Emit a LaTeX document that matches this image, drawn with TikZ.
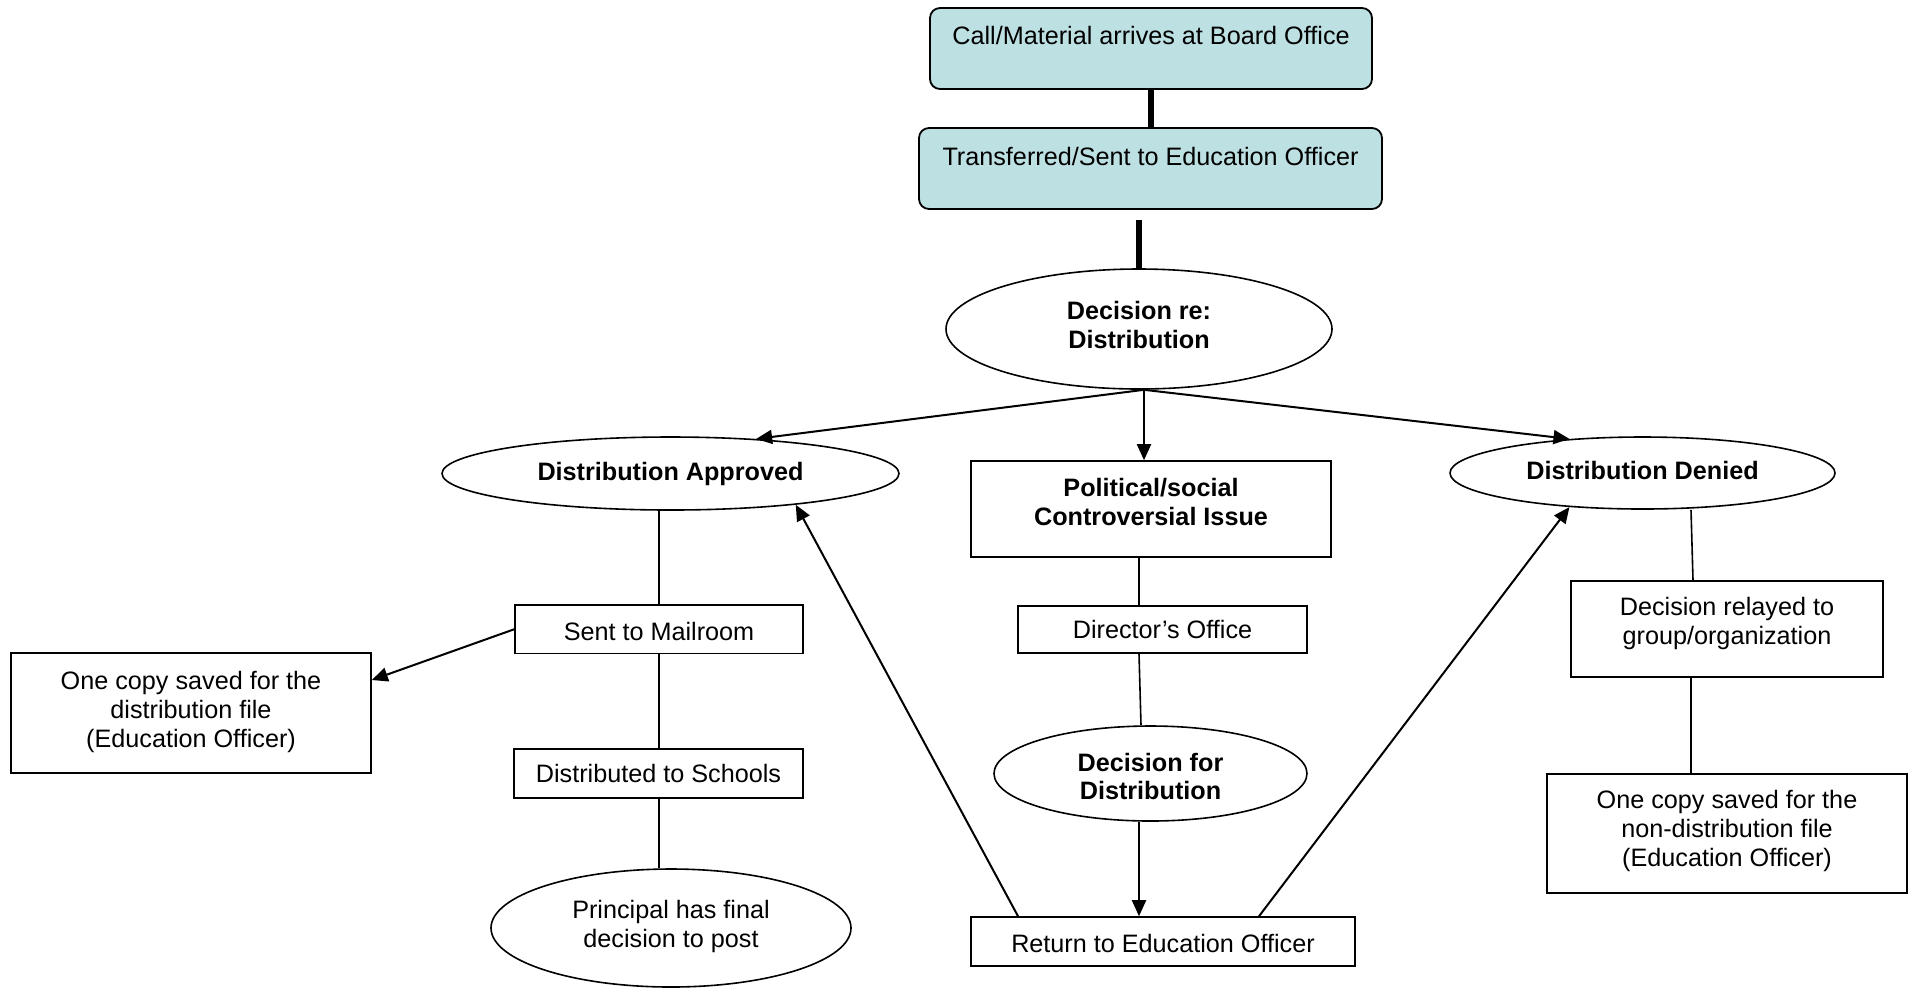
\documentclass[tikz,border=0pt]{standalone}
\usepackage{fontspec}
\setmainfont{Liberation Sans}
\usetikzlibrary{shapes.geometric,arrows.meta}
\definecolor{boxblue}{RGB}{189,224,227}
\newcommand\liftby[2]{\raisebox{#1}[\height][\depth]{#2}}
\begin{document}
\begin{tikzpicture}[x=0.5pt,y=-0.5pt,
  every node/.style={font=\fontsize{12.6}{14.4}\selectfont, align=center},
  bf/.style={font=\fontsize{12.6}{14.4}\selectfont\bfseries},
  topbox/.style={draw, line width=0.9pt, fill=boxblue, rounded corners=5pt, inner sep=0pt, text height=18pt, text depth=22.5pt},
  rbox/.style={draw, line width=0.8pt, inner sep=0pt},
  oval/.style={draw, ellipse, line width=0.8pt, inner sep=0pt},
  thickline/.style={line width=2.6pt},
  thinline/.style={line width=0.8pt},
  arrowline/.style={line width=1pt, -{Triangle[length=8pt,width=7pt]}},
]
\useasboundingbox (0,0) rectangle (1916,987);

% top boxes
\node[topbox, minimum width=221pt] (b1) at (1151,48.5) {Call/Material arrives at Board Office};
\node[topbox, minimum width=231.5pt] (b2) at (1150.5,168.5) {\liftby{-0.6pt}{Transferred/Sent to Education Officer}};

% decision
\coordinate (t0) at (1139,220);
\node[oval, bf, minimum width=193pt, minimum height=60pt] (e1) at (1139,329) {\liftby{2.1pt}{Decision re:}\\\liftby{2.1pt}{Distribution}};
\coordinate (e1s) at ([xshift=2.5pt]e1.south);

% three branches
\node[oval, bf, minimum width=228.5pt, minimum height=36.5pt] (ap) at (670.5,473.5) {Distribution Approved};
\node[rbox, bf, minimum width=180pt, minimum height=48pt] (pol) at (1151,509) {\liftby{3.7pt}{Political/social}\\\liftby{3.7pt}{Controversial Issue}};
\node[oval, bf, minimum width=192.5pt, minimum height=36pt] (dn) at (1642.5,473) {\liftby{1.2pt}{Distribution Denied}};

% approved column
\node[rbox, minimum width=144pt, minimum height=24.25pt] (mr) at (659,629.25) {\liftby{-1.2pt}{Sent to Mailroom}};
\node[rbox, minimum width=144.5pt, minimum height=24.5pt] (ds) at (658.5,773.5) {Distributed to Schools};
\node[oval, minimum width=180pt, minimum height=59pt] (pr) at (671,928) {\liftby{0.9pt}{Principal has final}\\\liftby{0.9pt}{decision to post}};
\node[rbox, minimum width=180pt, minimum height=60pt] (oc1) at (191,713) {\liftby{0.6pt}{One copy saved for the}\\\liftby{0.6pt}{distribution file}\\\liftby{0.6pt}{(Education Officer)}};

% middle column
\node[rbox, minimum width=144.5pt, minimum height=23.5pt] (dir) at (1162.5,629.5) {Director’s Office};
\node[oval, bf, minimum width=156.5pt, minimum height=47.5pt] (df) at (1150.5,773.5) {\liftby{-1.5pt}{Decision for}\\\liftby{-1.5pt}{Distribution}};
\node[rbox, minimum width=192pt, minimum height=24.5pt] (rt) at (1163,941.5) {\liftby{-1.2pt}{Return to Education Officer}};

% denied column
\node[rbox, minimum width=156pt, minimum height=48pt] (rl) at (1727,629) {\liftby{2.7pt}{Decision relayed to}\\\liftby{2.7pt}{group/organization}};
\node[rbox, minimum width=180pt, minimum height=59.5pt] (oc2) at (1727,833.5) {\liftby{1.4pt}{One copy saved for the}\\\liftby{1.4pt}{non-distribution file}\\\liftby{1.4pt}{(Education Officer)}};

% connectors
\draw[thickline] (b1.south) -- (b1.south |- b2.north);
\draw[thickline] (t0) -- (e1.north);
\draw[arrowline] (e1s) -- (ap.22);
\draw[arrowline] (e1s) -- (e1s |- pol.north);
\draw[arrowline] (e1s) -- (dn.155);

\draw[thinline] (mr.north |- ap.south) -- (mr.north);
\draw[thinline] (mr.south) -- (mr.south |- ds.north);
\draw[thinline] ([xshift=0.25pt]ds.south) -- ([xshift=0.25pt]ds.south |- pr.north);
\draw[arrowline] (mr.west) -- ([yshift=16.5pt]oc1.east);

\draw[thinline] ([xshift=-6pt]pol.south) -- ([xshift=-6pt]pol.south |- dir.north);
\draw[thinline] ([xshift=-11.75pt]dir.south) -- ([xshift=-4.75pt]df.north);
\draw[arrowline] ([xshift=-5.75pt]df.south) -- ([xshift=-5.75pt]df.south |- rt.north);
\draw[arrowline] ([xshift=-72.5pt]rt.north) -- (ap.346);
\draw[arrowline] ([xshift=48pt]rt.north) -- (dn.205);

\draw[thinline] ([xshift=24.25pt]dn.south) -- ([xshift=-17pt]rl.north);
\draw[thinline] ([xshift=-18pt]rl.south) -- ([xshift=-18pt]oc2.north);
\end{tikzpicture}
\end{document}
